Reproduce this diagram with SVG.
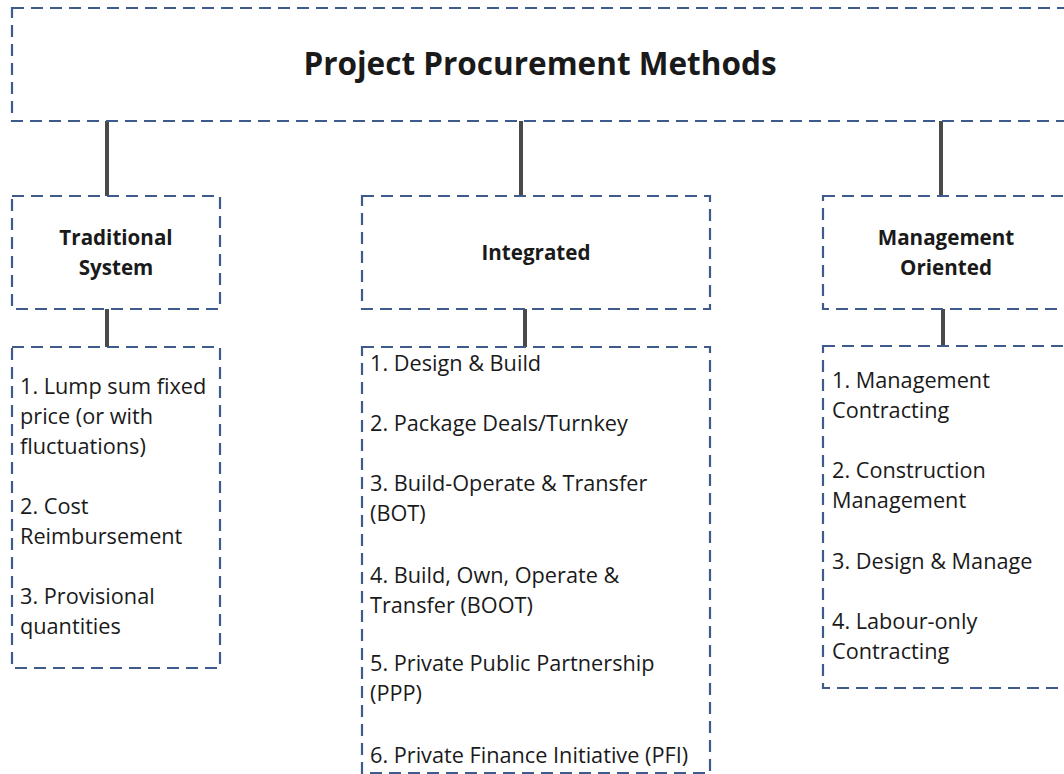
<svg xmlns="http://www.w3.org/2000/svg" width="1064" height="774" viewBox="0 0 1064 774">
<style>
.box{fill:none;stroke:#3f5b8c;stroke-width:2.2;stroke-dasharray:12 7}
.con{stroke:#4a4a4a;stroke-width:4}
.t{font-family:"Open Sans","Liberation Sans",sans-serif;fill:#1a1a1a}
.h{font-weight:bold;font-size:20.6px;text-anchor:middle}
.l{font-size:21.7px}
.title{font-weight:bold;font-size:31.5px;text-anchor:middle}
</style>
<rect width="1064" height="774" fill="#fff"/>
<g id="connectors">
<line class="con" x1="107" y1="121" x2="107" y2="196"/>
<line class="con" x1="521" y1="121" x2="521" y2="196"/>
<line class="con" x1="941" y1="121" x2="941" y2="196"/>
<line class="con" x1="107" y1="309" x2="107" y2="347"/>
<line class="con" x1="525" y1="309" x2="525" y2="347"/>
<line class="con" x1="943" y1="309" x2="943" y2="346"/>
</g>
<g id="root">
<rect class="box" x="12" y="8" width="1070" height="113"/>
<text class="t title" x="540" y="75">Project Procurement Methods</text>
</g>
<g id="traditional">
<rect class="box" x="12" y="196" width="208" height="113"/>
<text class="t h" x="116" y="245">Traditional</text>
<text class="t h" x="116" y="275">System</text>
</g>
<g id="integrated">
<rect class="box" x="362" y="196" width="348" height="113"/>
<text class="t h" x="536" y="260">Integrated</text>
</g>
<g id="management">
<rect class="box" x="823" y="196" width="260" height="113"/>
<text class="t h" x="946" y="245">Management</text>
<text class="t h" x="946" y="275">Oriented</text>
</g>
<g id="traditional-list">
<rect class="box" x="12" y="347" width="208" height="321"/>
<text class="t l" x="20" y="394">1. Lump sum fixed</text>
<text class="t l" x="20" y="424">price (or with</text>
<text class="t l" x="20" y="454">fluctuations)</text>
<text class="t l" x="20" y="514">2. Cost</text>
<text class="t l" x="20" y="544">Reimbursement</text>
<text class="t l" x="20" y="604">3. Provisional</text>
<text class="t l" x="20" y="634">quantities</text>
</g>
<g id="integrated-list">
<rect class="box" x="362" y="347" width="348" height="426"/>
<text class="t l" x="370" y="371">1. Design &amp; Build</text>
<text class="t l" x="370" y="431">2. Package Deals/Turnkey</text>
<text class="t l" x="370" y="491">3. Build-Operate &amp; Transfer</text>
<text class="t l" x="370" y="521">(BOT)</text>
<text class="t l" x="370" y="583">4. Build, Own, Operate &amp;</text>
<text class="t l" x="370" y="613">Transfer (BOOT)</text>
<text class="t l" x="370" y="671">5. Private Public Partnership</text>
<text class="t l" x="370" y="701">(PPP)</text>
<text class="t l" x="370" y="763">6. Private Finance Initiative (PFI)</text>
</g>
<g id="management-list">
<rect class="box" x="823" y="346" width="260" height="342"/>
<text class="t l" x="832" y="388">1. Management</text>
<text class="t l" x="832" y="418">Contracting</text>
<text class="t l" x="832" y="478">2. Construction</text>
<text class="t l" x="832" y="508">Management</text>
<text class="t l" x="832" y="569">3. Design &amp; Manage</text>
<text class="t l" x="832" y="629">4. Labour-only</text>
<text class="t l" x="832" y="659">Contracting</text>
</g>
</svg>
